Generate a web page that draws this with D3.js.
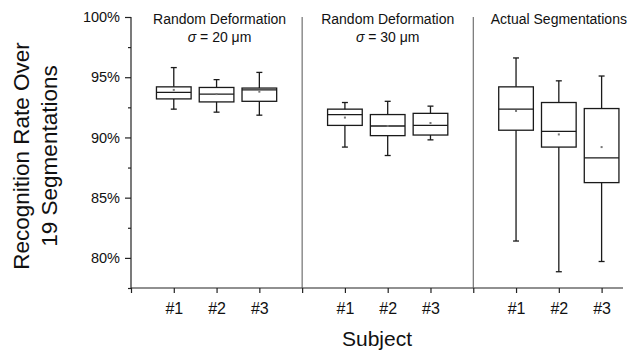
<!DOCTYPE html>
<html>
<head>
<meta charset="utf-8">
<script src="https://cdn.jsdelivr.net/npm/d3@7"></script>
<style>
  body { margin: 0; background: #fff; }
  svg text { font-family: "Liberation Sans", Arial, sans-serif; fill: #111; }
</style>
</head>
<body>
<div id="chart"></div>
<script>
// panel headings and subjects
const panels = ["Random Deformation", "Random Deformation", "Actual Segmentations"];
const panelSigma = ["20", "30", null];
const subjects = ["#1", "#2", "#3"];

// box stats per panel, per subject (percent)
const whiskerHigh = [[95.8, 94.8, 95.4], [92.9, 93.0, 92.6], [96.6, 94.7, 95.1]];
const q3 = [[94.2, 94.15, 94.1], [92.35, 91.9, 92.0], [94.2, 92.9, 92.4]];
const medians = [[93.75, 93.6, 93.95], [91.9, 90.95, 91.0], [92.35, 90.5, 88.3]];
const means = [[93.95, 93.6, 93.8], [91.65, 90.95, 91.2], [92.2, 90.25, 89.2]];
const q1 = [[93.2, 92.95, 93.0], [91.0, 90.15, 90.2], [90.6, 89.2, 86.25]];
const whiskerLow = [[92.35, 92.1, 91.85], [89.2, 88.5, 89.8], [81.4, 78.85, 79.7]];

const yTicks = [80, 85, 90, 95, 100];

const width = 636, height = 354;
const svg = d3.select("#chart").append("svg")
  .attr("width", width).attr("height", height);

// x is a slot index: 0,4,8 are panel borders, subjects sit at 1..3, 5..7, 9..11
const x = d3.scaleLinear().domain([0, 11.5]).range([131, 623]);
const y = d3.scaleLinear().domain([77.5, 100]).range([288, 17]);

const boxes = [];
panels.forEach((p, g) => {
  subjects.forEach((s, i) => {
    boxes.push({
      pos: g * 4 + i + 1,
      hi: whiskerHigh[g][i], q3: q3[g][i], med: medians[g][i],
      mean: means[g][i], q1: q1[g][i], lo: whiskerLow[g][i]
    });
  });
});

// y axis: major + minor ticks
const yAxis = svg.append("g")
  .attr("transform", `translate(${x(0)},0)`)
  .call(d3.axisLeft(y).tickValues(yTicks).tickFormat(d => d + "%").tickSize(6).tickPadding(5));
svg.append("g")
  .attr("transform", `translate(${x(0)},0)`)
  .call(d3.axisLeft(y).tickValues([77.5, 82.5, 87.5, 92.5, 97.5]).tickFormat("").tickSize(3))
  .call(g => g.select(".domain").remove());
yAxis.selectAll("text").attr("font-size", 14.5);
yAxis.select(".domain").attr("d", `M0,${y(100)}V${y(77.5)}`);

// x axis
const xAxis = svg.append("g")
  .attr("transform", `translate(0,${y(77.5)})`)
  .call(d3.axisBottom(x)
    .tickValues(d3.range(0, 12))
    .tickFormat(d => d % 4 === 0 ? "" : subjects[(d % 4) - 1])
    .tickSize(5).tickPadding(10));
xAxis.select(".domain").attr("d", `M${x(0)},0H${x(11.5)}`);
xAxis.selectAll("text").attr("font-size", 16);

svg.selectAll(".domain, .tick line").attr("stroke", "#222").attr("stroke-width", 1.2);

// panel separators
svg.selectAll(".sep").data([4, 8]).enter().append("line")
  .attr("x1", d => x(d)).attr("x2", d => x(d))
  .attr("y1", y(100)).attr("y2", y(77.5))
  .attr("stroke", "#555").attr("stroke-width", 1);

// panel titles
panels.forEach((p, g) => {
  svg.append("text")
    .attr("x", x(g * 4 + 2) + (g === 0 ? 3 : 0)).attr("y", 24)
    .attr("text-anchor", "middle").attr("font-size", 14)
    .text(p);
  if (panelSigma[g]) {
    const t = svg.append("text")
      .attr("x", x(g * 4 + 2) + (g === 0 ? 3 : 0)).attr("y", 42)
      .attr("text-anchor", "middle").attr("font-size", 14);
    t.append("tspan").attr("font-style", "italic").text("σ");
    t.append("tspan").text(" = " + panelSigma[g] + " μm");
  }
});

// boxes
const bw = 0.81, cap = 0.07;
const bg = svg.append("g").attr("stroke", "#1a1a1a").attr("stroke-width", 1.3).attr("fill", "none");
boxes.forEach(b => {
  const cx = x(b.pos), hw = (x(bw) - x(0)) / 2, cw = (x(cap) - x(0));
  bg.append("line").attr("x1", cx).attr("x2", cx).attr("y1", y(b.hi)).attr("y2", y(b.q3));
  bg.append("line").attr("x1", cx).attr("x2", cx).attr("y1", y(b.q1)).attr("y2", y(b.lo));
  bg.append("line").attr("x1", cx - cw).attr("x2", cx + cw).attr("y1", y(b.hi)).attr("y2", y(b.hi));
  bg.append("line").attr("x1", cx - cw).attr("x2", cx + cw).attr("y1", y(b.lo)).attr("y2", y(b.lo));
  bg.append("rect").attr("x", cx - hw).attr("width", 2 * hw)
    .attr("y", y(b.q3)).attr("height", y(b.q1) - y(b.q3));
  bg.append("line").attr("x1", cx - hw).attr("x2", cx + hw).attr("y1", y(b.med)).attr("y2", y(b.med));
  svg.append("rect").attr("x", cx - 1).attr("y", y(b.mean) - 1)
    .attr("width", 2).attr("height", 2).attr("fill", "#777");
});

// axis titles
svg.append("text")
  .attr("x", x(5.75)).attr("y", 346)
  .attr("text-anchor", "middle").attr("font-size", 21)
  .text("Subject");
const yl = svg.append("text")
  .attr("transform", "translate(0,156) rotate(-90)")
  .attr("text-anchor", "middle").attr("font-size", 22.5);
yl.append("tspan").attr("x", 0).attr("y", 29).text("Recognition Rate Over");
yl.append("tspan").attr("x", 0).attr("y", 57).text("19 Segmentations");
</script>
</body>
</html>
